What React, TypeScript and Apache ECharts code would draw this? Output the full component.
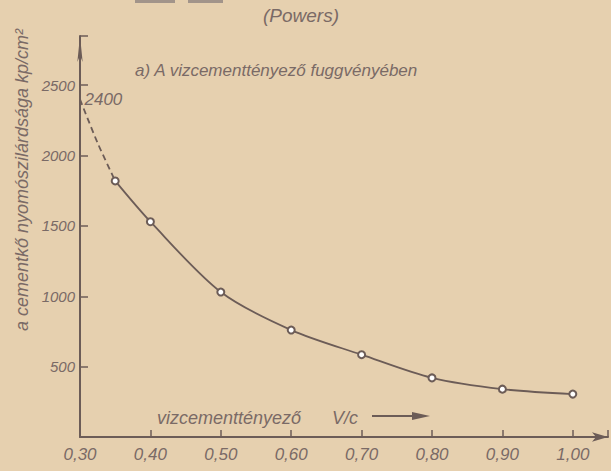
import React, { useEffect, useRef } from "react";
import * as echarts from "echarts";

const wcRatio = [0.35, 0.4, 0.5, 0.6, 0.7, 0.8, 0.9, 1.0];
const strength = [1820, 1530, 1030, 760, 585, 420, 340, 305];
const extrapX = [0.3, 0.325, 0.35];
const extrapY = [2400, 2090, 1820];
const xTicks = ["0,30", "0,40", "0,50", "0,60", "0,70", "0,80", "0,90", "1,00"];
const yTicks = [500, 1000, 1500, 2000, 2500];

const BG = "#e6d0af";
const INK = "#6c5c57";
const TXT = "#7a6a66";
const FONT = "'Liberation Sans', 'DejaVu Sans', sans-serif";

export default function App() {
  const ref = useRef<HTMLDivElement>(null);
  useEffect(() => {
    document.body.style.margin = "0";
    const chart = echarts.init(ref.current!, null, { renderer: "svg" });
    chart.setOption({
      animation: false,
      backgroundColor: BG,
      grid: { left: 80, right: 0, top: 36, bottom: 34, containLabel: false },
      xAxis: {
        type: "value",
        min: 0.3,
        max: 1.05,
        interval: 0.1,
        splitLine: { show: false },
        axisLine: {
          lineStyle: { color: INK, width: 2 },
          symbol: ["none", "arrow"],
          symbolSize: [7, 16],
        },
        axisTick: { inside: true, length: 7, lineStyle: { color: INK, width: 1.5 } },
        axisLabel: {
          color: TXT,
          fontFamily: FONT,
          fontStyle: "italic",
          fontSize: 17,
          margin: 9,
          formatter: (v: number) => {
            const i = Math.round((v - 0.3) * 10);
            return v > 1.01 ? "" : xTicks[i] ?? "";
          },
        },
      },
      yAxis: {
        type: "value",
        min: 0,
        max: 2850,
        interval: 500,
        splitLine: { show: false },
        axisLine: {
          lineStyle: { color: INK, width: 2 },
          symbol: ["none", "arrow"],
          symbolSize: [4, 26],
        },
        axisTick: { inside: true, length: 8, lineStyle: { color: INK, width: 1.5 } },
        axisLabel: {
          color: TXT,
          fontFamily: FONT,
          fontStyle: "italic",
          fontSize: 15,
          margin: 5,
          formatter: (v: number) => (yTicks.includes(v) ? String(v) : ""),
        },
      },
      series: [
        {
          type: "line",
          data: extrapX.map((x, i) => [x, extrapY[i]]),
          smooth: 0.3,
          showSymbol: false,
          symbol: "none",
          lineStyle: { color: INK, width: 1.8, type: [6, 4] },
          markPoint: {
            symbol: "circle",
            symbolSize: 1,
            itemStyle: { color: "transparent" },
            data: [
              {
                coord: [extrapX[0], extrapY[0]],
                value: extrapY[0],
                label: {
                  show: true,
                  position: "right",
                  distance: 4,
                  formatter: String(extrapY[0]),
                  color: TXT,
                  fontFamily: FONT,
                  fontStyle: "italic",
                  fontSize: 17,
                },
              },
            ],
          },
        },
        {
          type: "line",
          data: wcRatio.map((x, i) => [x, strength[i]]),
          smooth: 0.3,
          symbol: "emptyCircle",
          symbolSize: 7,
          itemStyle: { color: INK, borderWidth: 1.5 },
          lineStyle: { color: INK, width: 1.8 },
        },
      ],
      graphic: [
        { type: "rect", shape: { x: 135, y: 0, width: 40, height: 3 }, style: { fill: "#a2948a" } },
        { type: "rect", shape: { x: 188, y: 0, width: 35, height: 3 }, style: { fill: "#a2948a" } },
        {
          type: "text",
          x: 301,
          y: 15,
          style: {
            text: "(Powers)",
            fill: TXT,
            font: `italic 19px ${FONT}`,
            textAlign: "center",
            textVerticalAlign: "middle",
          },
        },
        {
          type: "text",
          x: 135,
          y: 70,
          style: {
            text: "a) A vizcementtényező fuggvényében",
            fill: TXT,
            font: `italic 17px ${FONT}`,
            textAlign: "left",
            textVerticalAlign: "middle",
          },
        },
        {
          type: "text",
          x: 22,
          y: 180,
          rotation: Math.PI / 2,
          style: {
            text: "a cementkő nyomószilárdsága kp/cm²",
            fill: TXT,
            font: `italic 18px ${FONT}`,
            textAlign: "center",
            textVerticalAlign: "middle",
          },
        },
        {
          type: "text",
          x: 157,
          y: 418,
          style: {
            text: "vizcementtényező",
            fill: TXT,
            font: `italic 18px ${FONT}`,
            textAlign: "left",
            textVerticalAlign: "middle",
          },
        },
        {
          type: "text",
          x: 332,
          y: 418,
          style: {
            text: "V/c",
            fill: TXT,
            font: `italic 18px ${FONT}`,
            textAlign: "left",
            textVerticalAlign: "middle",
          },
        },
        {
          type: "line",
          shape: { x1: 372, y1: 416, x2: 416, y2: 416 },
          style: { stroke: INK, lineWidth: 1.8 },
        },
        {
          type: "polygon",
          shape: { points: [[412, 412], [430, 416], [412, 420]] },
          style: { fill: INK },
        },
      ],
    });
    return () => chart.dispose();
  }, []);
  return (
    <div
      ref={ref}
      style={{ position: "absolute", left: 0, top: 0, width: 611, height: 471 }}
    />
  );
}
